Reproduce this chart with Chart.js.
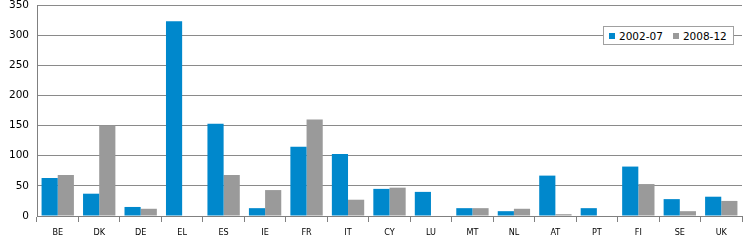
<!DOCTYPE html>
<html>
<head>
	<meta charset="utf-8">
	<script src="https://cdn.jsdelivr.net/npm/chart.js"></script>
	<style>
		body { margin: 0; background: #fff; }
		.caja { position: relative; width: 748px; height: 243px; }
		.leyenda {
			position: absolute; left: 603px; top: 26px; width: 124px; height: 17px;
			background: #fff; border: 1px solid #a0a0a0;
			font: 10.5px "DejaVu Sans", sans-serif; color: #000; white-space: nowrap;
			display: flex; align-items: center; padding-left: 5px;
		}
		.leyenda span.cuadro { display: inline-block; width: 6px; height: 6px; margin-right: 4px; }
		.leyenda span.item { margin-right: 10px; display: flex; align-items: center; }
	</style>
</head>
<body>
<div class="caja">
	<canvas id="miGrafico" width="748" height="243"></canvas>
	<div class="leyenda" id="leyenda"></div>
</div>
<script>
	const paises = ['BE', 'DK', 'DE', 'EL', 'ES', 'IE', 'FR', 'IT', 'CY', 'LU', 'MT', 'NL', 'AT', 'PT', 'FI', 'SE', 'UK'];
	const serie1 = [63, 37, 15, 323, 153, 13, 115, 103, 45, 40, 13, 8, 67, 13, 82, 28, 32];
	const serie2 = [68, 150, 12, 0, 68, 43, 160, 27, 47, 0, 13, 12, 3, 0, 53, 8, 25];
	const nombres = ['2002-07', '2008-12'];
	const colores = ['#0088cc', '#9a9a9a'];

	const ctx = document.getElementById('miGrafico').getContext('2d');
	new Chart(ctx, {
		type: 'bar',
		data: {
			labels: paises,
			datasets: [
				{ label: nombres[0], data: serie1, backgroundColor: colores[0] },
				{ label: nombres[1], data: serie2, backgroundColor: colores[1] },
			],
		},
		options: {
			responsive: false,
			animation: false,
			layout: { padding: { top: 5, right: 6, left: 0, bottom: 0 } },
			datasets: { bar: { barPercentage: 1, categoryPercentage: 0.78 } },
			plugins: { legend: { display: false }, tooltip: { enabled: false } },
			scales: {
				x: {
					afterFit: (s) => { s.height = 27; s.paddingLeft = 0; s.paddingRight = 0; },
					grid: { drawOnChartArea: false, drawTicks: true, tickLength: 6, color: '#808080', offset: true },
					border: { color: '#808080' },
					ticks: { padding: 5, maxRotation: 0, color: '#000', font: { family: '"DejaVu Sans Condensed", "Liberation Sans Narrow", sans-serif', size: 9 } },
				},
				y: {
					min: 0, max: 350,
					afterFit: (s) => { s.width = 37; s.paddingTop = 0; s.paddingBottom = 0; },
					grid: { color: '#8a8a8a', drawTicks: false },
					border: { color: '#808080' },
					ticks: { stepSize: 50, padding: 8, color: '#000', font: { family: '"DejaVu Sans", sans-serif', size: 10.5 } },
				},
			},
		},
	});

	// leyenda en html
	const leyenda = document.getElementById('leyenda');
	nombres.forEach((n, i) => {
		leyenda.innerHTML += '<span class="item"><span class="cuadro" style="background:' + colores[i] + '"></span>' + n + '</span>';
	});
</script>
</body>
</html>
